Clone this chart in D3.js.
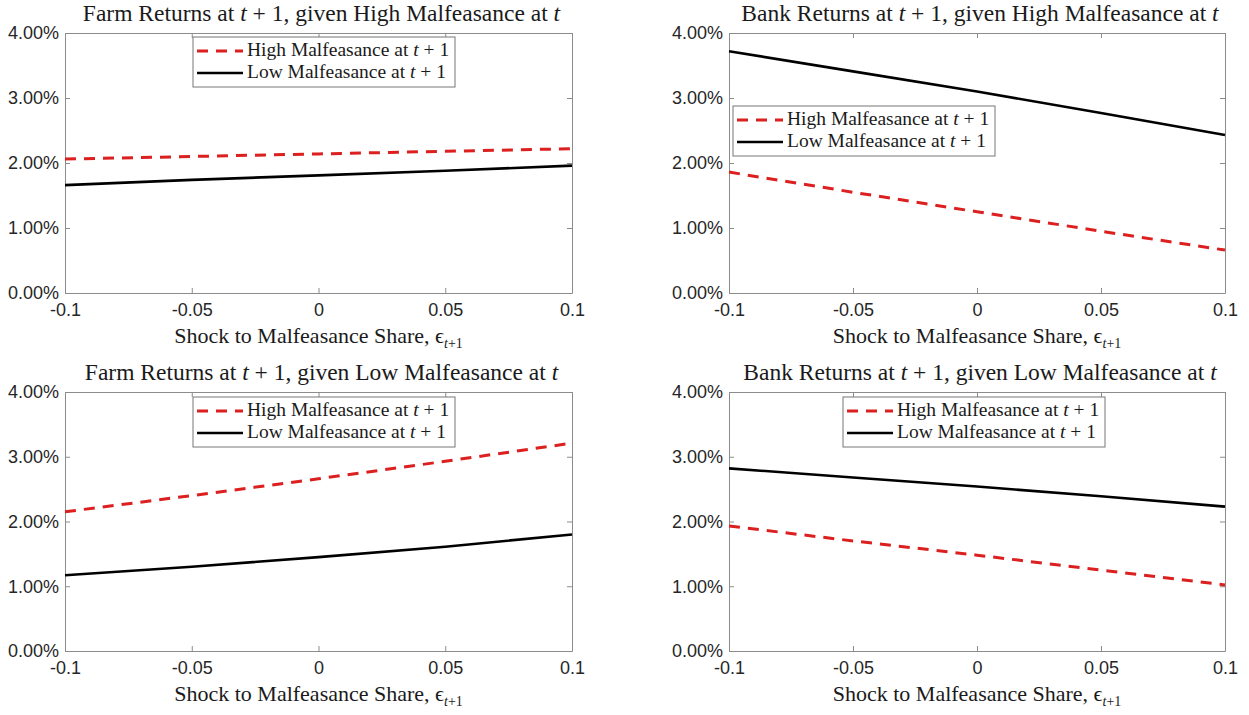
<!DOCTYPE html>
<html>
<head>
<meta charset="utf-8" />
<title>Returns given malfeasance</title>
<script src="https://d3js.org/d3.v7.min.js"></script>
<style>
  body { margin: 0; background: #fff; }
  .ax path, .ax line { stroke: #8c8c8c; }
  .ax text { fill: #262626; font-family: "Liberation Sans", Arial, sans-serif; font-size: 18px; }
  .serif { font-family: "Liberation Serif", "Times New Roman", serif; fill: #1a1a1a; }
</style>
</head>
<body>
<svg id="chart" width="1249" height="715"></svg>
<script>
// shock to malfeasance share
var xVals = [-0.1, -0.05, 0, 0.05, 0.1];
var xTickLabels = ["-0.1", "-0.05", "0", "0.05", "0.1"];
var yTicks = [0, 1, 2, 3, 4];

// returns in percent, high / low malfeasance at t+1
var farmHighT_high = [2.06, 2.10, 2.14, 2.18, 2.22];
var farmHighT_low  = [1.66, 1.74, 1.81, 1.88, 1.96];
var bankHighT_high = [1.86, 1.55, 1.25, 0.95, 0.66];
var bankHighT_low  = [3.72, 3.41, 3.10, 2.77, 2.43];
var farmLowT_high  = [2.15, 2.40, 2.66, 2.93, 3.21];
var farmLowT_low   = [1.17, 1.30, 1.45, 1.61, 1.80];
var bankLowT_high  = [1.93, 1.70, 1.48, 1.25, 1.02];
var bankLowT_low   = [2.82, 2.68, 2.54, 2.39, 2.23];

var sectors = ["Farm", "Bank", "Farm", "Bank"];
var givenState = ["High", "High", "Low", "Low"];
var legendLabels = ["High Malfeasance at ", "Low Malfeasance at "];

var highSeries = [farmHighT_high, bankHighT_high, farmLowT_high, bankLowT_high];
var lowSeries = [farmHighT_low, bankHighT_low, farmLowT_low, bankLowT_low];

// layout
var cols = [{l: 65, r: 572}, {l: 729, r: 1225}];
var rows = [{t: 33, b: 293}, {t: 392, b: 651}];
var legendPos = [{x: 193, y: 37}, {x: 733, y: 106}, {x: 193, y: 397}, {x: 843, y: 397}];

var svg = d3.select("#chart");

function addTeX(textSel, parts) {
  parts.forEach(function(p) {
    var t = textSel.append("tspan").text(p.s);
    if (p.i) t.attr("font-style", "italic");
  });
}

for (var k = 0; k < 4; k++) {
  var col = cols[k % 2], row = rows[Math.floor(k / 2)];
  var x = d3.scaleLinear().domain([-0.1, 0.1]).range([col.l, col.r]);
  var y = d3.scaleLinear().domain([0, 4]).range([row.b, row.t]);
  var g = svg.append("g");

  g.append("rect")
    .attr("x", col.l).attr("y", row.t)
    .attr("width", col.r - col.l).attr("height", row.b - row.t)
    .attr("fill", "#fff");

  // axes, ticks pointing inward
  g.append("g").attr("class", "ax")
    .attr("transform", "translate(0," + row.b + ")")
    .call(d3.axisBottom(x).tickValues(xVals).tickSizeInner(-5).tickSizeOuter(0).tickPadding(10)
      .tickFormat(function(d, i) { return xTickLabels[i]; }));
  g.append("g").attr("class", "ax")
    .attr("transform", "translate(0," + row.t + ")")
    .call(d3.axisTop(x).tickValues(xVals).tickSizeInner(-5).tickSizeOuter(0).tickFormat(""));
  g.append("g").attr("class", "ax")
    .attr("transform", "translate(" + col.l + ",0)")
    .call(d3.axisLeft(y).tickValues(yTicks).tickSizeInner(-5).tickSizeOuter(0).tickPadding(6)
      .tickFormat(function(d) { return d.toFixed(2) + "%"; }));
  g.append("g").attr("class", "ax")
    .attr("transform", "translate(" + col.r + ",0)")
    .call(d3.axisRight(y).tickValues(yTicks).tickSizeInner(-5).tickSizeOuter(0).tickFormat(""));

  var line = d3.line().x(function(d, i) { return x(xVals[i]); }).y(function(d) { return y(d); });

  g.append("path").datum(lowSeries[k])
    .attr("d", line).attr("fill", "none")
    .attr("stroke", "#000").attr("stroke-width", 2.6);
  g.append("path").datum(highSeries[k])
    .attr("d", line).attr("fill", "none")
    .attr("stroke", "#dc1f1f").attr("stroke-width", 3)
    .attr("stroke-dasharray", "11,8");

  // title
  var title = g.append("text").attr("class", "serif")
    .attr("x", (col.l + col.r) / 2 + 3).attr("y", row.t - 12)
    .attr("text-anchor", "middle").attr("font-size", 23.5);
  addTeX(title, [
    {s: sectors[k] + " Returns at "}, {s: "t", i: true},
    {s: " + 1, given " + givenState[k] + " Malfeasance at "}, {s: "t", i: true}
  ]);

  // x label
  var xl = g.append("text").attr("class", "serif")
    .attr("x", (col.l + col.r) / 2).attr("y", row.b + 50)
    .attr("text-anchor", "middle").attr("font-size", 22);
  xl.append("tspan").text("Shock to Malfeasance Share, \u03f5");
  xl.append("tspan").attr("font-size", 14).attr("dy", 5).attr("font-style", "italic").text("t");
  xl.append("tspan").attr("font-size", 14).text("+1");

  // legend
  var lp = legendPos[k];
  var lg = g.append("g").attr("transform", "translate(" + lp.x + "," + lp.y + ")");
  lg.append("rect").attr("width", 262).attr("height", 50)
    .attr("fill", "#fff").attr("stroke", "#777").attr("stroke-width", 1);
  var styles = [
    {stroke: "#dc1f1f", w: 3, dash: "11,8"},
    {stroke: "#000", w: 2.6, dash: null}
  ];
  legendLabels.forEach(function(lab, j) {
    var yy = 14 + j * 22;
    lg.append("line").attr("x1", 4).attr("x2", 50).attr("y1", yy).attr("y2", yy)
      .attr("stroke", styles[j].stroke).attr("stroke-width", styles[j].w)
      .attr("stroke-dasharray", styles[j].dash);
    var tx = lg.append("text").attr("class", "serif")
      .attr("x", 54).attr("y", yy + 5).attr("font-size", 19.5);
    addTeX(tx, [{s: lab}, {s: "t", i: true}, {s: " + 1"}]);
  });
}
</script>
</body>
</html>
